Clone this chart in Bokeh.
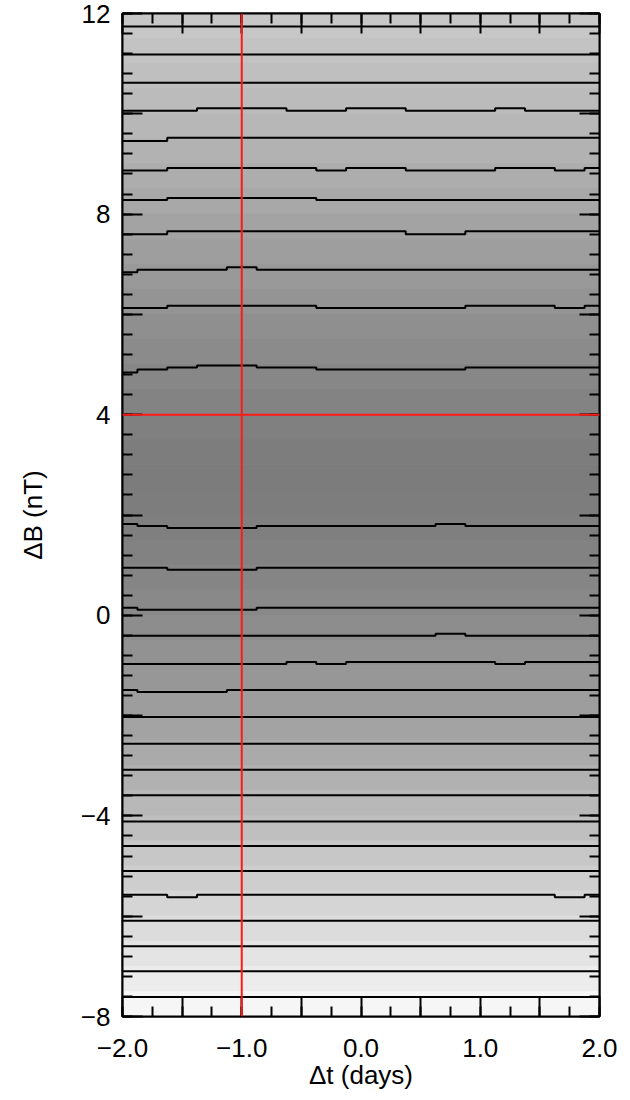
from bokeh.plotting import figure
from bokeh.models import Range1d, LinearAxis, FixedTicker, Span
from bokeh.embed import file_html
from bokeh.resources import INLINE

# ---------------- data ----------------
x_grid = [-2.0, -1.75, -1.5, -1.25, -1.0, -0.75, -0.5, -0.25, 0.0,
          0.25, 0.5, 0.75, 1.0, 1.25, 1.5, 1.75, 2.0]

c01 = [11.74] * 17
c02 = [11.18] * 17
c03 = [10.62] * 17
c04 = [10.06, 10.06, 10.06, 10.11, 10.11, 10.11, 10.06, 10.06, 10.11, 10.11, 10.06, 10.06, 10.06, 10.11, 10.06, 10.06, 10.06]
c05 = [9.46, 9.46, 9.52, 9.52, 9.52, 9.52, 9.52, 9.52, 9.52, 9.52, 9.52, 9.52, 9.52, 9.52, 9.52, 9.52, 9.52]
c06 = [8.87, 8.87, 8.92, 8.92, 8.92, 8.92, 8.92, 8.87, 8.92, 8.92, 8.87, 8.87, 8.87, 8.92, 8.92, 8.87, 8.92]
c07 = [8.28, 8.28, 8.32, 8.32, 8.32, 8.32, 8.32, 8.28, 8.28, 8.28, 8.28, 8.28, 8.28, 8.28, 8.28, 8.28, 8.28]
c08 = [7.60, 7.60, 7.66, 7.66, 7.66, 7.66, 7.66, 7.66, 7.66, 7.66, 7.60, 7.60, 7.66, 7.66, 7.66, 7.66, 7.66]
c09 = [6.84, 6.89, 6.89, 6.89, 6.94, 6.89, 6.89, 6.89, 6.89, 6.89, 6.89, 6.89, 6.89, 6.89, 6.89, 6.89, 6.89]
c10 = [6.13, 6.13, 6.17, 6.17, 6.17, 6.17, 6.17, 6.13, 6.13, 6.13, 6.13, 6.13, 6.17, 6.17, 6.17, 6.13, 6.17]
c11 = [4.84, 4.90, 4.94, 4.98, 4.98, 4.94, 4.94, 4.90, 4.90, 4.90, 4.90, 4.90, 4.94, 4.94, 4.94, 4.94, 4.94]
c12 = [1.82, 1.78, 1.74, 1.74, 1.74, 1.78, 1.78, 1.78, 1.78, 1.78, 1.78, 1.82, 1.78, 1.78, 1.78, 1.78, 1.78]
c13 = [0.95, 0.95, 0.91, 0.91, 0.91, 0.95, 0.95, 0.95, 0.95, 0.95, 0.95, 0.95, 0.95, 0.95, 0.95, 0.95, 0.95]
c14 = [0.15, 0.11, 0.11, 0.11, 0.11, 0.15, 0.15, 0.15, 0.15, 0.15, 0.15, 0.15, 0.15, 0.15, 0.15, 0.15, 0.15]
c15 = [-0.41, -0.41, -0.41, -0.41, -0.41, -0.41, -0.41, -0.41, -0.41, -0.41, -0.41, -0.37, -0.41, -0.41, -0.41, -0.41, -0.41]
c16 = [-0.97, -0.97, -0.97, -0.97, -0.97, -0.97, -0.93, -0.97, -0.93, -0.93, -0.93, -0.93, -0.93, -0.97, -0.93, -0.93, -0.93]
c17 = [-1.49, -1.53, -1.53, -1.53, -1.49, -1.49, -1.49, -1.49, -1.49, -1.49, -1.49, -1.49, -1.49, -1.49, -1.49, -1.49, -1.49]
c18 = [-2.03] * 17
c19 = [-2.56] * 17
c20 = [-3.08] * 17
c21 = [-3.59] * 17
c22 = [-4.11] * 17
c23 = [-4.60] * 17
c24 = [-5.10] * 17
c25 = [-5.57, -5.57, -5.62, -5.57, -5.57, -5.57, -5.57, -5.57, -5.57, -5.57, -5.57, -5.57, -5.57, -5.57, -5.57, -5.62, -5.57]
c26 = [-6.09] * 17
c27 = [-6.60] * 17
c28 = [-7.10] * 17
c29 = [-7.61] * 17

# shading bands (ΔB edges, top to bottom) and grey level of each band
band_top = [12.0, 11.5, 11.0, 10.5, 10.0, 9.5, 9.0, 8.5, 8.0, 7.5,
            7.0, 6.5, 6.0, 5.5, 5.0, 4.5, 4.0, 3.5, 3.0, 2.5,
            2.0, 1.5, 1.0, 0.5, 0.0, -0.5, -1.0, -1.5, -2.0, -2.5,
            -3.0, -3.5, -4.0, -4.5, -5.0, -5.5, -6.0, -6.5, -7.0, -7.5]
band_bottom = [11.5, 11.0, 10.5, 10.0, 9.5, 9.0, 8.5, 8.0, 7.5, 7.0,
               6.5, 6.0, 5.5, 5.0, 4.5, 4.0, 3.5, 3.0, 2.5, 2.0,
               1.5, 1.0, 0.5, 0.0, -0.5, -1.0, -1.5, -2.0, -2.5, -3.0,
               -3.5, -4.0, -4.5, -5.0, -5.5, -6.0, -6.5, -7.0, -7.5, -8.0]
band_grey = [199, 195, 191, 187, 183, 178, 173, 168, 163, 158,
             153, 148, 143, 139, 135, 131, 128, 125, 124, 125,
             127, 130, 133, 137, 141, 146, 151, 157, 163, 170,
             177, 184, 191, 199, 206, 213, 220, 228, 236, 246]

x_ticks = [-2.0, -1.5, -1.0, -0.5, 0.0, 0.5, 1.0, 1.5, 2.0]
x_tick_labels = ["−2.0", "", "−1.0", "", "0.0", "", "1.0", "", "2.0"]
y_ticks = [-8, -6, -4, -2, 0, 2, 4, 6, 8, 10, 12]
y_tick_labels = ["−8", "", "−4", "", "0", "", "4", "", "8", "", "12"]

cross_x = -1.0
cross_y = 4.0

x_title = "Δt (days)"
y_title = "ΔB (nT)"

# ---------------- figure ----------------
FONT = "Liberation Sans"

p = figure(width=630, height=1100,
           x_range=Range1d(-2, 2), y_range=Range1d(-8, 12),
           output_backend="svg", toolbar_location=None,
           x_axis_type=None, y_axis_type=None,
           min_border_left=122, min_border_right=31,
           min_border_top=13, min_border_bottom=84)
p.grid.visible = False
p.outline_line_color = "black"
p.outline_line_width = 2

colors = ["#%02x%02x%02x" % (g, g, g) for g in band_grey]
p.quad(left=-2, right=2, bottom=band_bottom, top=band_top,
       fill_color=colors, line_color=colors, line_width=1)

for ys in [c01, c02, c03, c04, c05, c06, c07, c08, c09, c10,
           c11, c12, c13, c14, c15, c16, c17, c18, c19, c20,
           c21, c22, c23, c24, c25, c26, c27, c28, c29]:
    p.step(x_grid, ys, mode="center", line_color="black", line_width=2)

p.add_layout(Span(location=cross_x, dimension="height", line_color="#ff1a1a", line_width=2))
p.add_layout(Span(location=cross_y, dimension="width", line_color="#ff1a1a", line_width=2))

x_minor = [round(-2 + 0.25 * k, 3) for k in range(17)]
y_minor = [round(-8 + 0.4 * k, 3) for k in range(51)]


def style(ax, show):
    ax.axis_line_color = "black"
    ax.axis_line_width = 2
    ax.major_tick_line_color = "black"
    ax.major_tick_line_width = 2
    ax.minor_tick_line_color = "black"
    ax.minor_tick_line_width = 2
    ax.major_tick_out = 0
    ax.minor_tick_out = 0
    ax.major_tick_in = 20
    ax.minor_tick_in = 10
    ax.major_label_text_font = FONT
    ax.major_label_text_color = "black"
    ax.axis_label_text_font = FONT
    ax.axis_label_text_font_style = "normal"
    ax.axis_label_text_color = "black"
    if show:
        ax.major_label_text_font_size = "26px"
        ax.axis_label_text_font_size = "26px"
    else:
        ax.major_label_text_font_size = "0px"
        ax.major_label_standoff = 0


xb = LinearAxis(ticker=FixedTicker(ticks=x_ticks, minor_ticks=x_minor), axis_label=x_title)
xb.major_label_overrides = dict(zip(x_ticks, x_tick_labels))
style(xb, True)
xb.major_label_standoff = 22
xb.axis_label_standoff = 0
p.add_layout(xb, "below")

xt = LinearAxis(ticker=FixedTicker(ticks=x_ticks, minor_ticks=x_minor))
xt.major_label_overrides = {t: "" for t in x_ticks}
style(xt, False)
p.add_layout(xt, "above")

yl = LinearAxis(ticker=FixedTicker(ticks=y_ticks, minor_ticks=y_minor), axis_label=y_title)
yl.major_label_overrides = dict(zip(y_ticks, y_tick_labels))
style(yl, True)
yl.major_label_standoff = 12
yl.axis_label_standoff = 30
p.add_layout(yl, "left")

yr = LinearAxis(ticker=FixedTicker(ticks=y_ticks, minor_ticks=y_minor))
yr.major_label_overrides = {t: "" for t in y_ticks}
style(yr, False)
p.add_layout(yr, "right")

open("out.html", "w").write(file_html(p, INLINE))
